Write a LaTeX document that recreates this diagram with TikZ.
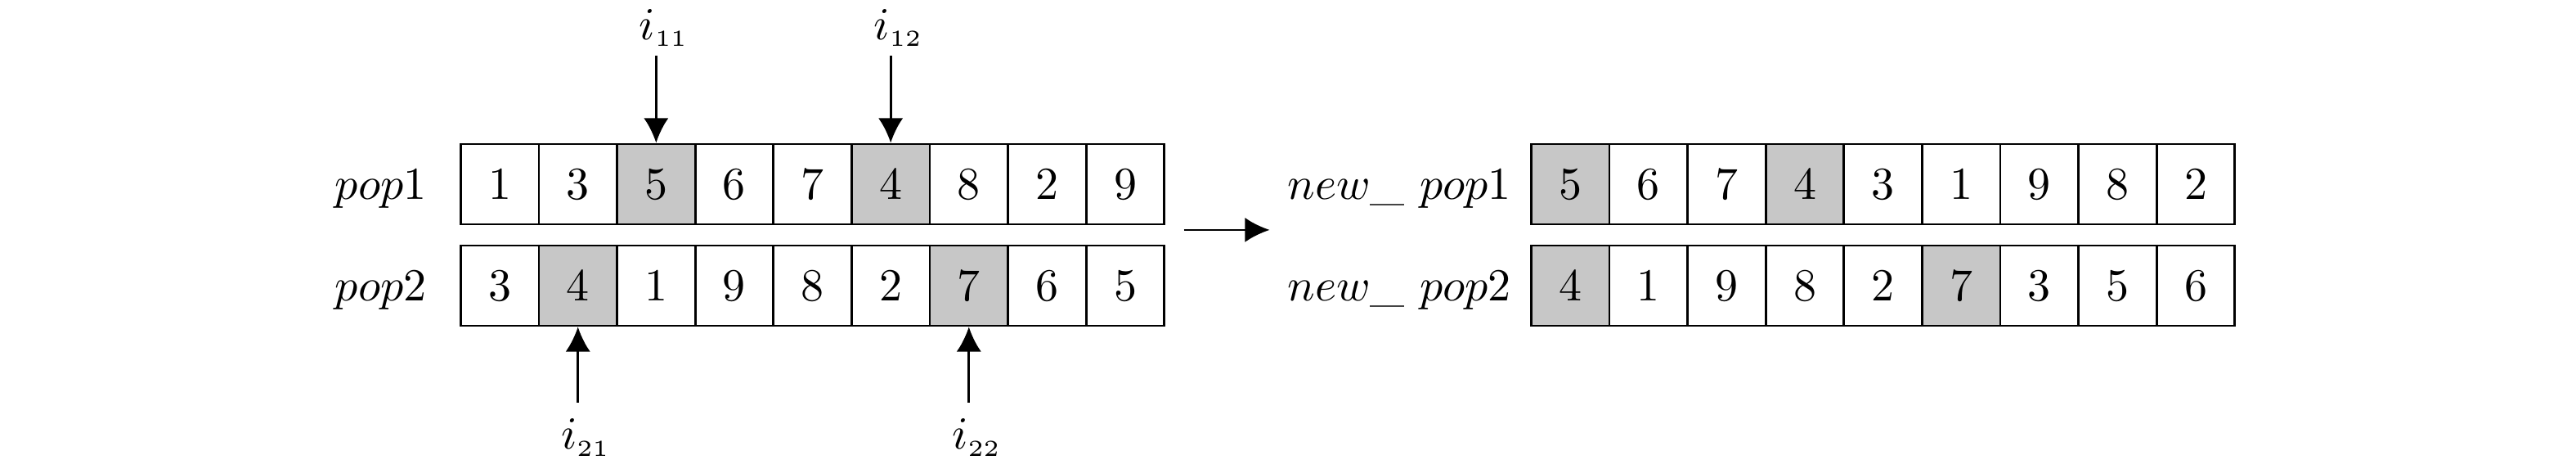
\documentclass[tikz,border=0pt]{standalone}
\usepackage{amsmath}
\usepackage{xcolor}
\usepackage{tikz}
\usetikzlibrary{arrows.meta,positioning}

\colorlet{cellgray}{black!22}
\tikzset{
    cell/.style={draw, line width=0.5pt, minimum width=0.6cm, minimum height=0.615cm, inner sep=0pt},
    idx/.style={inner sep=2pt, outer sep=0pt, xshift=0.06cm},
    tip/.style={-{Latex[length=5.4pt,width=5.4pt]}, line width=0.5pt}
}

\begin{document}
\begin{tikzpicture}
        \useasboundingbox (0,0) rectangle (19.768,-3.596);
        % parents
        \foreach \v/\f [count=\k] in {1/white,3/white,5/cellgray,6/white,7/white,4/cellgray,8/white,2/white,9/white}
            \node (pa\k) [cell, fill=\f] at (3.235+0.6*\k,-1.412) {$\v$};
        \foreach \v/\f [count=\k] in {3/white,4/cellgray,1/white,9/white,8/white,2/white,7/cellgray,6/white,5/white}
            \node (pb\k) [cell, fill=\f] at (3.235+0.6*\k,-2.190) {$\v$};
        \node (lpa) [anchor=base east] at ([xshift=-0.13cm]pa1.base west) {$pop1$};
        \node (lpb) [anchor=base east] at ([xshift=-0.13cm]pb1.base west) {$pop2$};
        % enfants
        \foreach \v/\f [count=\k] in {5/cellgray,6/white,7/white,4/cellgray,3/white,1/white,9/white,8/white,2/white}
            \node (na\k) [cell, fill=\f] at (11.45+0.6*\k,-1.412) {$\v$};
        \foreach \v/\f [count=\k] in {4/cellgray,1/white,9/white,8/white,2/white,7/cellgray,3/white,5/white,6/white}
            \node (nb\k) [cell, fill=\f] at (11.45+0.6*\k,-2.190) {$\v$};
        \node (lna) [anchor=base east] at ([xshift=-0.02cm]na1.base west) {$new\_\ pop1$};
        \node (lnb) [anchor=base east] at ([xshift=-0.02cm]nb1.base west) {$new\_\ pop2$};
        % points de coupure
        \node (i11) [idx, above=0.67cm of pa3] {$i_{\scriptscriptstyle 11}$};
        \node (i12) [idx, above=0.67cm of pa6] {$i_{\scriptscriptstyle 12}$};
        \node (i21) [idx, below=0.635cm of pb2] {$i_{\scriptscriptstyle 21}$};
        \node (i22) [idx, below=0.635cm of pb7] {$i_{\scriptscriptstyle 22}$};
        \draw [tip] (pa3 |- i11.south) -- (pa3.north);
        \draw [tip] (pa6 |- i12.south) -- (pa6.north);
        \draw [tip, shorten <=1.6pt] (pb2 |- i21.north) -- (pb2.south);
        \draw [tip, shorten <=1.6pt] (pb7 |- i22.north) -- (pb7.south);
        % croisement
        \coordinate (from) at (9.084,-1.763);
        \coordinate (to) at (9.743,-1.763);
        \draw [tip] (from) -- (to);
    \end{tikzpicture}
\end{document}
